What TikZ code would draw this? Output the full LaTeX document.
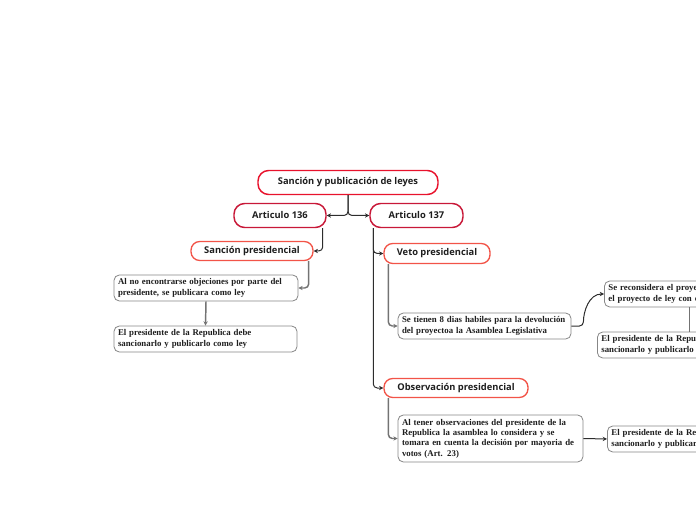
\documentclass[tikz,border=0pt]{standalone}
\usepackage{fontspec}
\setmainfont{Liberation Serif}
\newfontfamily\hdrfont{Open Sans}
\usetikzlibrary{arrows.meta,calc}
\definecolor{rootred}{RGB}{232,18,44}
\definecolor{artred}{RGB}{200,24,56}
\definecolor{coral}{RGB}{242,84,72}
\definecolor{boxgray}{RGB}{135,135,135}
\definecolor{lnk}{RGB}{45,45,45}
\definecolor{lnkgray}{RGB}{115,115,115}
\definecolor{txt}{RGB}{30,30,30}
\begin{document}
\begin{tikzpicture}[x=0.75pt,y=-0.75pt,
  hbase/.style={fill=white, text=txt, inner sep=0pt, font=\hdrfont\bfseries\fontsize{7}{8.5}\selectfont},
  hroot/.style={hbase, draw=rootred, line width=1.1pt, rounded corners=8pt, minimum height=18pt, minimum width=135pt},
  hart/.style={hbase, draw=artred, line width=1.1pt, rounded corners=8pt, minimum height=18pt, minimum width=69pt},
  hsub/.style={hbase, draw=coral, line width=1pt, rounded corners=6.5pt},
  body/.style={draw=boxgray, line width=0.6pt, rounded corners=4pt, fill=white, text=txt,
    font=\bfseries\fontsize{6.6}{7.8}\selectfont, align=left, inner xsep=3pt, inner ysep=0pt, minimum height=19.5pt},
  conn/.style={draw=lnk, line width=0.75pt, rounded corners=3pt},
  conng/.style={draw=lnkgray, line width=1.1pt, rounded corners=3pt},
  arr/.style={-{Stealth[length=3.2pt,width=3.2pt]}}
]
\useasboundingbox (0,0) rectangle (696,520);
\clip (0,0) rectangle (696,520);

% header nodes
\node[hroot] (root) at (348,182.5) {Sanción y publicación de leyes};
\node[hart] (a136) at (280,215.5) {Articulo 136};
\node[hart, minimum width=69.75pt] (a137) at (416.5,215.5) {Articulo 137};
\node[hsub, minimum width=91.5pt, minimum height=14.25pt] (sp) at (252,251) {Sanción presidencial};
\node[hsub, minimum width=79.5pt, minimum height=15pt] (veto) at (437,253.5) {Veto presidencial};
\node[hsub, minimum width=108pt, minimum height=14.25pt] (obs) at (456,388) {Observación presidencial};

% body boxes
\node[body, text width=132pt] (bA) at (206,288) {Al no encontrarse objeciones por parte del\\presidente, se publicara como ley};
\node[body, text width=131.25pt] (bB) at (205.5,339) {El presidente de la Republica debe\\sancionarlo y publicarlo como ley};
\node[body, text width=123.75pt] (bC) at (484.5,326) {Se tienen 8 dias habiles para la devolución\\del proyectoa la Asamblea Legislativa};
\node[body, text width=121.5pt, anchor=west] (bD) at (604,294) {Se reconsidera el proyecto\\el proyecto de ley con cambios};
\node[body, text width=132pt, anchor=west] (bE) at (597,345) {El presidente de la Republica debe\\sancionarlo y publicarlo como ley};
\node[body, text width=132.75pt, minimum height=35.25pt] (bF) at (490.5,438.5) {Al tener observaciones del presidente de la\\Republica la asamblea lo considera y se\\tomara en cuenta la decisión por mayoria de\\votos (Art. 23)};
\node[body, text width=131.25pt, anchor=west] (bG) at (607,439) {El presidente de la Republica debe\\sancionarlo y publicarlo como ley};

% connectors
\draw[conn,arr] (root.south) |- (a136.east);
\draw[conn,arr] (root.south) |- (a137.west);
\draw[conn,arr] ($(a136.south east)+(-4,0)$) |- (sp.east);
\draw[conn,arr] ($(a137.south west)+(4,0)$) |- (veto.west);
\draw[conn,arr] ($(a137.south west)+(4,0)$) |- (obs.west);
\draw[conng,arr] ($(sp.south east)+(-5,0)$) |- (bA.east);
\draw[conng,arr] (bA.south) -- (bB.north);
\draw[conng,arr] ($(veto.south west)+(5,0)$) |- (bC.west);
\draw[conng,arr] ($(obs.south west)+(5,0)$) |- (bF.west);
\draw[conn,arr] (bC.east) -- ++(12,0) to[out=90,in=180] (bD.west);
\draw[draw=lnkgray, line width=0.7pt] ($(bD.south west)+(85,0)$) -- ($(bD.south west)+(85,25)$);
\draw[conn,arr] (bF.east) -- (bG.west);
\end{tikzpicture}
\end{document}
